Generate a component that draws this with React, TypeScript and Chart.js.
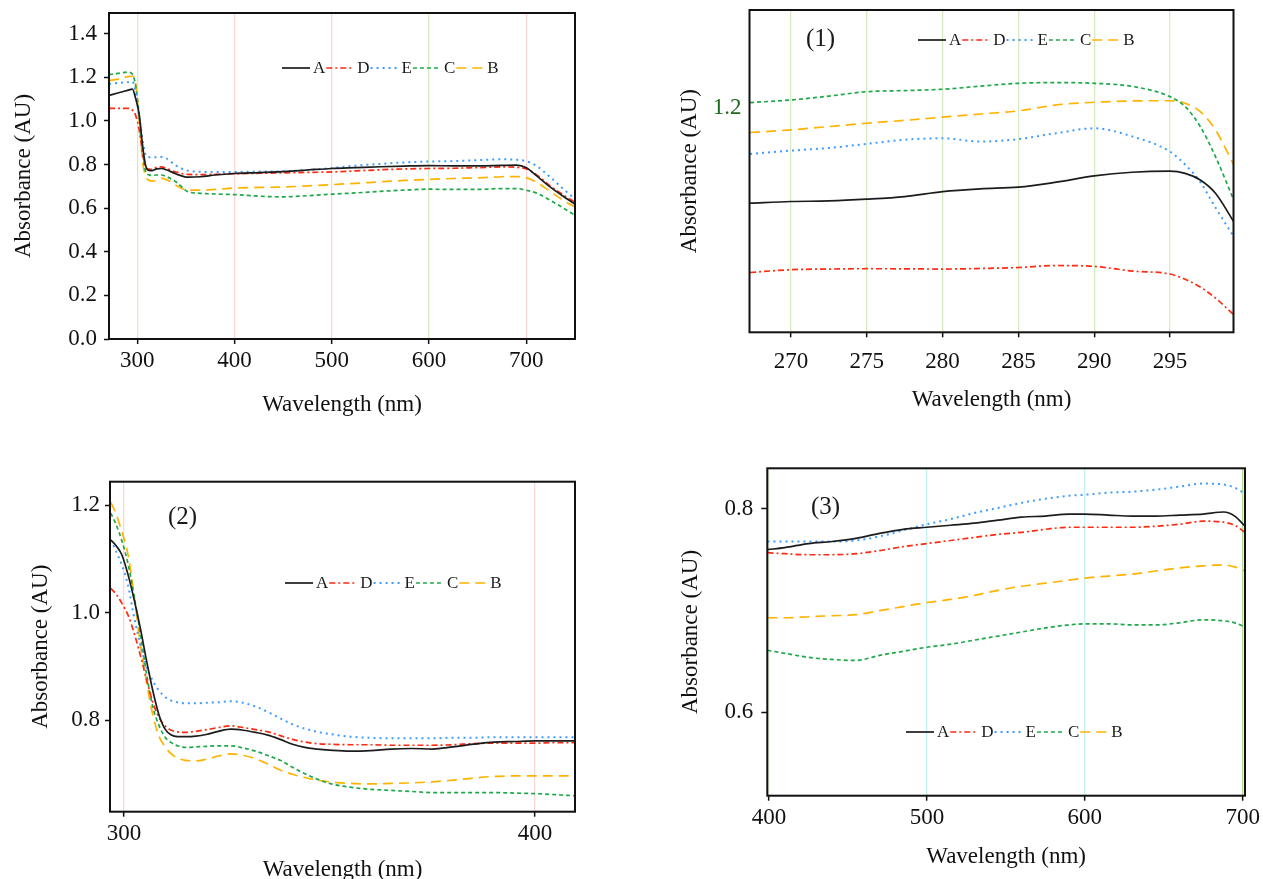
import React, { useEffect, useRef } from "react";
import { Chart, registerables } from "chart.js";

Chart.register(...registerables);

const FONT = '"Liberation Serif", "Times New Roman", serif';

// ---- series appearance ----
const seriesLabels = ["A", "D", "E", "C", "B"];
const seriesColors = ["#1c1c1c", "#ff2a10", "#3f9cff", "#1fa84a", "#ffb300"];
const seriesDashes = [[], [6, 3, 2, 3], [2, 4], [4, 3], [10, 6]];
const seriesWidths = [1.7, 1.7, 2, 1.7, 1.7];

// ---- overview panel (top-left) ----
const overviewWavelengths = [271, 280, 290, 295, 298, 302, 306, 309, 312, 315, 320, 325, 330, 340, 352, 365, 380, 400, 425, 450, 475, 500, 525, 550, 575, 600, 625, 650, 675, 690, 700, 710, 725, 740, 750];
const overviewA = [1.117, 1.128, 1.14, 1.146, 1.11, 1.03, 0.87, 0.79, 0.773, 0.772, 0.78, 0.782, 0.776, 0.757, 0.742, 0.744, 0.752, 0.759, 0.763, 0.768, 0.775, 0.782, 0.786, 0.79, 0.793, 0.795, 0.794, 0.794, 0.796, 0.797, 0.785, 0.75, 0.695, 0.648, 0.618];
const overviewD = [1.058, 1.058, 1.058, 1.05, 1.03, 0.96, 0.84, 0.785, 0.779, 0.778, 0.787, 0.789, 0.782, 0.765, 0.755, 0.754, 0.755, 0.758, 0.76, 0.762, 0.764, 0.766, 0.771, 0.776, 0.78, 0.782, 0.783, 0.786, 0.789, 0.787, 0.78, 0.755, 0.7, 0.655, 0.627];
const overviewE = [1.17, 1.174, 1.178, 1.18, 1.14, 1.02, 0.9, 0.84, 0.834, 0.833, 0.833, 0.835, 0.828, 0.795, 0.772, 0.767, 0.766, 0.766, 0.768, 0.769, 0.775, 0.784, 0.795, 0.803, 0.81, 0.814, 0.816, 0.82, 0.824, 0.822, 0.815, 0.795, 0.74, 0.68, 0.642];
const overviewC = [1.212, 1.218, 1.224, 1.215, 1.17, 1.03, 0.84, 0.763, 0.753, 0.75, 0.752, 0.752, 0.745, 0.72, 0.676, 0.668, 0.665, 0.662, 0.655, 0.652, 0.657, 0.664, 0.67, 0.677, 0.683, 0.687, 0.686, 0.686, 0.69, 0.69, 0.682, 0.67, 0.635, 0.595, 0.567];
const overviewB = [1.185, 1.192, 1.203, 1.205, 1.185, 1.0, 0.8, 0.742, 0.728, 0.724, 0.727, 0.737, 0.731, 0.704, 0.683, 0.683, 0.686, 0.692, 0.695, 0.697, 0.702, 0.708, 0.714, 0.721, 0.727, 0.732, 0.736, 0.739, 0.744, 0.745, 0.74, 0.72, 0.675, 0.63, 0.605];
const overviewXTicks = [300, 400, 500, 600, 700];
const overviewYTicks = [0, 0.2, 0.4, 0.6, 0.8, 1.0, 1.2, 1.4];

// ---- panel (1): 267-299 nm ----
const zoom1Wavelengths = [267.3, 270, 272.5, 275, 277.5, 280, 282.5, 285, 287.5, 290, 292.5, 295, 296, 297, 298, 299.2];
const zoom1A = [1.114, 1.1155, 1.116, 1.1176, 1.12, 1.1245, 1.127, 1.1285, 1.133, 1.1387, 1.142, 1.143, 1.141, 1.135, 1.123, 1.0974];
const zoom1D = [1.0512, 1.0537, 1.0543, 1.0546, 1.0545, 1.0543, 1.0548, 1.0557, 1.0575, 1.0567, 1.0525, 1.0498, 1.045, 1.038, 1.028, 1.0129];
const zoom1E = [1.1586, 1.1616, 1.164, 1.1677, 1.1715, 1.1728, 1.1698, 1.172, 1.1774, 1.1818, 1.1745, 1.1607, 1.149, 1.133, 1.11, 1.0838];
const zoom1C = [1.2051, 1.2075, 1.211, 1.215, 1.216, 1.2172, 1.22, 1.2226, 1.2232, 1.2226, 1.2198, 1.2105, 1.2015, 1.1833, 1.1562, 1.117];
const zoom1B = [1.178, 1.1804, 1.1834, 1.1864, 1.189, 1.1919, 1.1948, 1.1976, 1.203, 1.2054, 1.2066, 1.2068, 1.2045, 1.1969, 1.1804, 1.1487];
const zoom1XTicks = [270, 275, 280, 285, 290, 295];
const zoom1YTicks = [1.2];

// ---- panel (2): 297-410 nm ----
const zoom2Wavelengths = [296.8, 298, 299.5, 301, 302.5, 304, 305.5, 307, 308.5, 310, 311.5, 313, 315, 317.5, 320, 323, 326, 329, 332, 335, 338, 341, 344, 347, 350, 355, 360, 365, 370, 375, 380, 385, 390, 395, 400, 405, 409.7];
const zoom2A = [1.135, 1.125, 1.107, 1.07, 1.023, 0.97, 0.91, 0.855, 0.81, 0.783, 0.772, 0.769, 0.769, 0.77, 0.773, 0.779, 0.783, 0.781, 0.777, 0.772, 0.764, 0.755, 0.749, 0.746, 0.744, 0.742, 0.743, 0.746, 0.747, 0.746, 0.75, 0.755, 0.759, 0.76, 0.761, 0.761, 0.761];
const zoom2D = [1.045, 1.035, 1.017, 0.995, 0.961, 0.92, 0.875, 0.833, 0.805, 0.789, 0.781, 0.778, 0.777, 0.779, 0.782, 0.786, 0.789, 0.786, 0.782, 0.778, 0.771, 0.764, 0.759, 0.756, 0.755, 0.754, 0.754, 0.753, 0.753, 0.753, 0.754, 0.756, 0.757, 0.757, 0.757, 0.758, 0.758];
const zoom2E = [1.135, 1.115, 1.088, 1.05, 0.99, 0.94, 0.9, 0.873, 0.855, 0.843, 0.836, 0.833, 0.831, 0.831, 0.832, 0.833, 0.835, 0.832, 0.825, 0.815, 0.803, 0.792, 0.784, 0.778, 0.774, 0.769, 0.767, 0.766, 0.766, 0.766, 0.767, 0.767, 0.768, 0.768, 0.768, 0.768, 0.768];
const zoom2C = [1.185, 1.165, 1.133, 1.09, 1.029, 0.96, 0.885, 0.825, 0.79, 0.768, 0.758, 0.752, 0.749, 0.75, 0.751, 0.752, 0.752, 0.748, 0.742, 0.734, 0.725, 0.712, 0.7, 0.69, 0.682, 0.675, 0.671, 0.669, 0.667, 0.665, 0.665, 0.665, 0.665, 0.664, 0.663, 0.661, 0.659];
const zoom2B = [1.205, 1.185, 1.15, 1.107, 1.03, 0.94, 0.87, 0.81, 0.77, 0.75, 0.737, 0.729, 0.725, 0.724, 0.727, 0.733, 0.737, 0.734, 0.728, 0.718, 0.707, 0.699, 0.693, 0.688, 0.685, 0.682, 0.681, 0.682, 0.683, 0.685, 0.688, 0.692, 0.695, 0.696, 0.696, 0.696, 0.696];
const zoom2XTicks = [300, 400];
const zoom2YTicks = [0.8, 1.0, 1.2];

// ---- panel (3): 399-702 nm ----
const zoom3Wavelengths = [399, 410, 425, 440, 455, 470, 485, 500, 515, 530, 545, 560, 575, 590, 600, 615, 630, 645, 660, 675, 688, 695, 701.5];
const zoom3A = [0.76, 0.762, 0.766, 0.768, 0.771, 0.776, 0.78, 0.782, 0.784, 0.786, 0.789, 0.792, 0.793, 0.795, 0.795, 0.794, 0.793, 0.793, 0.794, 0.795, 0.797, 0.793, 0.783];
const zoom3D = [0.757, 0.756, 0.755, 0.755, 0.756, 0.759, 0.763, 0.766, 0.769, 0.772, 0.775, 0.777, 0.78, 0.782, 0.782, 0.782, 0.782, 0.783, 0.785, 0.788, 0.787, 0.784, 0.777];
const zoom3E = [0.768, 0.768, 0.768, 0.768, 0.769, 0.773, 0.779, 0.785, 0.79, 0.796, 0.801, 0.806, 0.81, 0.813, 0.814, 0.816, 0.817, 0.819, 0.822, 0.825, 0.824, 0.821, 0.815];
const zoom3C = [0.661, 0.658, 0.654, 0.652, 0.651, 0.656, 0.66, 0.664, 0.667, 0.671, 0.675, 0.679, 0.683, 0.686, 0.687, 0.687, 0.686, 0.686, 0.688, 0.691, 0.69, 0.688, 0.684];
const zoom3B = [0.693, 0.693, 0.694, 0.695, 0.696, 0.7, 0.704, 0.708, 0.711, 0.715, 0.72, 0.724, 0.727, 0.73, 0.732, 0.734, 0.736, 0.739, 0.742, 0.744, 0.745, 0.743, 0.739];
const zoom3XTicks = [400, 500, 600, 700];
const zoom3YTicks = [0.6, 0.8];

const GREEN = "#d6eac4";
const PINK = "#fbd6d6";
const CYAN = "#c4f1f1";

type PanelCfg = {
  left: number; top: number; width: number; height: number;
  padTop: number; padRight: number; yAxisWidth: number; xAxisHeight: number;
  xMin: number; xMax: number; yMin: number; yMax: number;
  xTicks: number[]; yTicks: number[];
  wavelengths: number[]; series: number[][];
  gridColors: Record<string, string>;
  xTickLen: number; yTickLen: number; xTickPad: number; yTickPad: number;
  yTickColor: string; yTitlePad: number; xTitlePad: number;
  legendX: number; legendY: number;
  tag?: string; tagX?: number; tagY?: number;
};

const framePlugin = {
  id: "frame",
  afterDatasetsDraw(chart: any) {
    const { ctx, chartArea: a } = chart;
    ctx.save();
    ctx.strokeStyle = "#111";
    ctx.lineWidth = 2;
    ctx.strokeRect(a.left, a.top, a.right - a.left, a.bottom - a.top);
    ctx.restore();
  },
};

const legendPlugin = {
  id: "inlineLegend",
  afterDraw(chart: any, _args: any, opts: any) {
    const ctx = chart.ctx;
    ctx.save();
    ctx.font = `17px ${FONT}`;
    ctx.textBaseline = "middle";
    let x = opts.x;
    const y = opts.y;
    chart.data.datasets.forEach((ds: any) => {
      ctx.strokeStyle = ds.borderColor;
      ctx.lineWidth = ds.borderWidth;
      ctx.setLineDash(ds.borderDash || []);
      ctx.beginPath();
      ctx.moveTo(x, y);
      ctx.lineTo(x + 28, y);
      ctx.stroke();
      ctx.setLineDash([]);
      ctx.fillStyle = "#1a1a1a";
      ctx.fillText(ds.label, x + 31, y + 1);
      x += 31 + ctx.measureText(ds.label).width + 1;
    });
    if (opts.tag) {
      ctx.font = `25px ${FONT}`;
      ctx.fillText(opts.tag, opts.tagX, opts.tagY);
    }
    ctx.restore();
  },
};

function Panel({ cfg }: { cfg: PanelCfg }) {
  const ref = useRef<HTMLCanvasElement | null>(null);
  useEffect(() => {
    if (!ref.current) return;
    const datasets = cfg.series.map((vals, i) => ({
      label: seriesLabels[i],
      data: cfg.wavelengths.map((w, j) => ({ x: w, y: vals[j] })),
      borderColor: seriesColors[i],
      backgroundColor: seriesColors[i],
      borderWidth: seriesWidths[i],
      borderDash: seriesDashes[i],
      pointRadius: 0,
      cubicInterpolationMode: "monotone" as const,
      fill: false,
    }));
    const tickFont = { family: FONT, size: 23 };
    const chart = new Chart(ref.current, {
      type: "line",
      data: { datasets },
      plugins: [framePlugin, legendPlugin],
      options: {
        animation: false,
        responsive: false,
        events: [],
        layout: { padding: { top: cfg.padTop, right: cfg.padRight, left: 0, bottom: 0 } },
        plugins: {
          legend: { display: false },
          tooltip: { enabled: false },
          inlineLegend: { x: cfg.legendX, y: cfg.legendY, tag: cfg.tag, tagX: cfg.tagX, tagY: cfg.tagY },
        } as any,
        scales: {
          x: {
            type: "linear",
            min: cfg.xMin,
            max: cfg.xMax,
            afterBuildTicks: (s: any) => { s.ticks = cfg.xTicks.map((v) => ({ value: v })); },
            afterFit: (s: any) => { s.height = cfg.xAxisHeight; s.paddingLeft = 0; s.paddingRight = 0; },
            ticks: { font: tickFont, color: "#111", padding: cfg.xTickPad, maxRotation: 0, autoSkip: false, callback: (v: any) => String(v) },
            grid: {
              color: (c: any) => (c.tick ? cfg.gridColors[String(c.tick.value)] || "rgba(0,0,0,0)" : "rgba(0,0,0,0)"),
              lineWidth: 1.3,
              drawTicks: cfg.xTickLen > 0,
              tickLength: cfg.xTickLen,
              tickColor: "#111",
              tickWidth: 1.5,
            },
            border: { display: false },
            title: { display: true, text: "Wavelength (nm)", color: "#111", font: { family: FONT, size: 23 }, padding: { top: 0, bottom: cfg.xTitlePad } },
          },
          y: {
            type: "linear",
            min: cfg.yMin,
            max: cfg.yMax,
            afterBuildTicks: (s: any) => { s.ticks = cfg.yTicks.map((v) => ({ value: v })); },
            afterFit: (s: any) => { s.width = cfg.yAxisWidth; s.paddingTop = 0; s.paddingBottom = 0; },
            ticks: { font: tickFont, color: cfg.yTickColor, padding: cfg.yTickPad, autoSkip: false, callback: (v: any) => Number(v).toFixed(1) },
            grid: {
              drawOnChartArea: false,
              drawTicks: cfg.yTickLen > 0,
              tickLength: cfg.yTickLen,
              tickColor: "#111",
              tickWidth: 1.5,
            },
            border: { display: false },
            title: { display: true, text: "Absorbance (AU)", color: "#111", font: { family: FONT, size: 23 }, padding: { top: cfg.yTitlePad, bottom: 0 } },
          },
        },
      } as any,
    });
    return () => chart.destroy();
  }, [cfg]);
  return (
    <div style={{ position: "absolute", left: cfg.left, top: cfg.top, width: cfg.width, height: cfg.height }}>
      <canvas ref={ref} width={cfg.width} height={cfg.height} style={{ display: "block" }} />
    </div>
  );
}

const panels: PanelCfg[] = [
  {
    left: 0, top: 0, width: 640, height: 440,
    padTop: 13, padRight: 65, yAxisWidth: 109, xAxisHeight: 101,
    xMin: 271, xMax: 750, yMin: 0, yMax: 1.495,
    xTicks: overviewXTicks, yTicks: overviewYTicks,
    wavelengths: overviewWavelengths, series: [overviewA, overviewD, overviewE, overviewC, overviewB],
    gridColors: { "300": GREEN, "400": PINK, "500": PINK, "600": GREEN, "700": PINK },
    xTickLen: 5, yTickLen: 5, xTickPad: 3, yTickPad: 7, yTickColor: "#111",
    yTitlePad: 10, xTitlePad: 21,
    legendX: 282, legendY: 68,
  },
  {
    left: 640, top: 0, width: 623, height: 440,
    padTop: 10, padRight: 29.5, yAxisWidth: 109.5, xAxisHeight: 107.7,
    xMin: 267.26, xMax: 299.19, yMin: 0.997, yMax: 1.289,
    xTicks: zoom1XTicks, yTicks: zoom1YTicks,
    wavelengths: zoom1Wavelengths, series: [zoom1A, zoom1D, zoom1E, zoom1C, zoom1B],
    gridColors: { "270": GREEN, "275": GREEN, "280": GREEN, "285": GREEN, "290": GREEN, "295": GREEN },
    xTickLen: 5, yTickLen: 0, xTickPad: 11, yTickPad: 8, yTickColor: "#1e6b1e",
    yTitlePad: 36, xTitlePad: 26,
    legendX: 278, legendY: 40,
    tag: "(1)", tagX: 166, tagY: 39,
  },
  {
    left: 0, top: 440, width: 640, height: 460,
    padTop: 41.7, padRight: 65, yAxisWidth: 110, xAxisHeight: 88.3,
    xMin: 296.6, xMax: 409.7, yMin: 0.6294, yMax: 1.2434,
    xTicks: zoom2XTicks, yTicks: zoom2YTicks,
    wavelengths: zoom2Wavelengths, series: [zoom2A, zoom2D, zoom2E, zoom2C, zoom2B],
    gridColors: { "300": PINK, "400": PINK },
    xTickLen: 5, yTickLen: 5, xTickPad: 3, yTickPad: 5, yTickColor: "#111",
    yTitlePad: 27, xTitlePad: 16,
    legendX: 285, legendY: 143,
    tag: "(2)", tagX: 168, tagY: 77,
  },
  {
    left: 640, top: 440, width: 623, height: 460,
    padTop: 28.3, padRight: 18, yAxisWidth: 127.3, xAxisHeight: 104.3,
    xMin: 398.9, xMax: 701.5, yMin: 0.518, yMax: 0.84,
    xTicks: zoom3XTicks, yTicks: zoom3YTicks,
    wavelengths: zoom3Wavelengths, series: [zoom3A, zoom3D, zoom3E, zoom3C, zoom3B],
    gridColors: { "400": "#dff0cc", "500": CYAN, "600": CYAN, "700": "#b5da98" },
    xTickLen: 5, yTickLen: 6, xTickPad: 3, yTickPad: 8, yTickColor: "#111",
    yTitlePad: 37, xTitlePad: 29,
    legendX: 266, legendY: 292,
    tag: "(3)", tagX: 171, tagY: 67,
  },
];

export default function App() {
  return (
    <div style={{ position: "absolute", left: 0, top: 0, width: 1263, height: 879, overflow: "hidden", background: "#fff" }}>
      {panels.map((p, i) => (
        <Panel key={i} cfg={p} />
      ))}
    </div>
  );
}
